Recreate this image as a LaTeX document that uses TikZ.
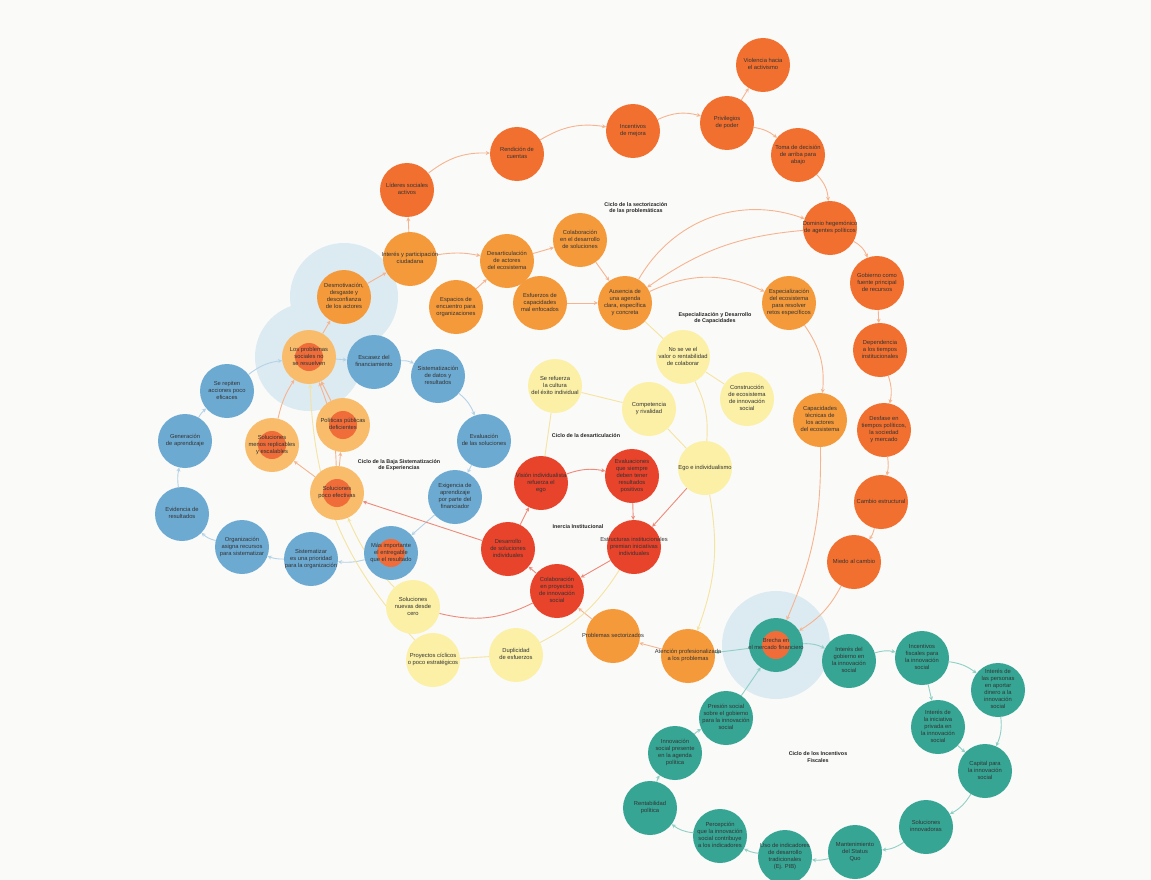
\documentclass[tikz,border=0pt]{standalone}
\usepackage{fontspec}
\setmainfont{Liberation Sans}
\usetikzlibrary{arrows.meta}
\pgfdeclarelayer{back}
\pgfdeclarelayer{bg}
\pgfsetlayers{back,bg,main}
\newcommand{\tx}[1]{\makebox[0pt]{\begin{tabular}{@{}c@{}}#1\end{tabular}}}
\definecolor{cBack}{HTML}{FAFAF9}
\definecolor{cDor}{HTML}{F2702F}
\definecolor{cMor}{HTML}{F59A3B}
\definecolor{cLor}{HTML}{F8BC6B}
\definecolor{cCore}{HTML}{F06D3A}
\definecolor{cBlu}{HTML}{6DAAD2}
\definecolor{cYel}{HTML}{FBF0A6}
\definecolor{cRed}{HTML}{E8432B}
\definecolor{cTea}{HTML}{36A594}
\definecolor{cHalo}{HTML}{DCEAF2}
\definecolor{eOr}{HTML}{F6B48E}
\definecolor{eBl}{HTML}{B4D3E6}
\definecolor{eYe}{HTML}{F5E3A0}
\definecolor{eRe}{HTML}{EE8A7A}
\definecolor{eTe}{HTML}{8FD0C5}
\begin{document}
\begin{tikzpicture}[x=1pt,y=-1pt,
 nd/.style={circle, minimum size=54pt, inner sep=0pt,
   font=\fontsize{5.8}{7}\selectfont, text=black!80},
 dor/.style={nd, fill=cDor},
 mor/.style={nd, fill=cMor},
 lor/.style={nd, fill=cLor},
 blu/.style={nd, fill=cBlu},
 yel/.style={nd, fill=cYel},
 red/.style={nd, fill=cRed},
 tea/.style={nd, fill=cTea},
 core/.style={path picture={\fill[cCore] (path picture bounding box.center) circle (14pt);}},
 ar/.style={-{Stealth[length=4pt,width=4pt]}, line width=0.9pt},
 eo/.style={ar, draw=eOr},
 eb/.style={ar, draw=eBl},
 ey/.style={ar, draw=eYe},
 er/.style={ar, draw=eRe},
 et/.style={ar, draw=eTe},
 lbl/.style={font=\bfseries\fontsize{5.4}{6.5}\selectfont, align=center, text=black!85}
]
\useasboundingbox (0,0) rectangle (1151,880);
\begin{pgfonlayer}{back}
\fill[cBack] (0,0) rectangle (1151,880);
\end{pgfonlayer}

% dark orange
\node[dor] (viol) at (763,65) {\tx{Violencia hacia\\el activismo}};
\node[dor] (priv) at (727,123) {\tx{Privilegios\\de poder}};
\node[dor] (ince) at (633,131) {\tx{Incentivos\\de mejora}};
\node[dor] (rend) at (517,154) {\tx{Rendición de\\cuentas}};
\node[dor] (lide) at (407,190) {\tx{Líderes sociales\\activos}};
\node[dor] (toma) at (798,155) {\tx{Toma de decisión\\de arriba para\\abajo}};
\node[dor] (domi) at (830,228) {\tx{Dominio hegemónico\\de agentes políticos}};
\node[dor] (gobi) at (877,283) {\tx{Gobierno como\\fuente principal\\de recursos}};
\node[dor] (depe) at (880,350) {\tx{Dependencia\\a los tiempos\\institucionales}};
\node[dor] (desf) at (884,430) {\tx{Desfase en\\tiempos políticos,\\la sociedad\\y mercado}};
\node[dor] (camb) at (881,502) {\tx{Cambio estructural}};
\node[dor] (mied) at (854,562) {\tx{Miedo al cambio}};

% medium orange
\node[mor] (inte) at (410,259) {\tx{Interés y participación\\ciudadana}};
\node[mor] (desm) at (344,297) {\tx{Desmotivación,\\desgaste y\\desconfianza\\de los actores}};
\node[mor] (desa) at (507,261) {\tx{Desarticulación\\de actores\\del ecosistema}};
\node[mor] (cola) at (580,240) {\tx{Colaboración\\en el desarrollo\\de soluciones}};
\node[mor] (espa) at (456,307) {\tx{Espacios de\\encuentro para\\organizaciones}};
\node[mor] (esfu) at (540,303) {\tx{Esfuerzos de\\capacidades\\mal enfocados}};
\node[mor] (ause) at (625,303) {\tx{Ausencia de\\una agenda\\clara, específica\\y concreta}};
\node[mor] (espe) at (789,303) {\tx{Especialización\\del ecosistema\\para resolver\\retos específicos}};
\node[mor] (capa) at (820,420) {\tx{Capacidades\\técnicas de\\los actores\\del ecosistema}};
\node[mor] (prob) at (613,636) {\tx{Problemas sectorizados}};
\node[mor] (aten) at (688,656) {\tx{Atención profesionalizada\\a los problemas}};

% light orange with core
\node[lor,core] (lpro) at (309,357) {\tx{Los problemas\\sociales no\\se resuelven}};
\node[lor,core] (poli) at (343,425) {\tx{Políticas públicas\\deficientes}};
\node[lor,core] (smen) at (272,445) {\tx{Soluciones\\menos replicables\\y escalables}};
\node[lor,core] (spoc) at (337,493) {\tx{Soluciones\\poco efectivas}};

% blue
\node[blu] (repi) at (227,391) {\tx{Se repiten\\acciones poco\\eficaces}};
\node[blu] (gene) at (185,441) {\tx{Generación\\de aprendizaje}};
\node[blu] (evid) at (182,514) {\tx{Evidencia de\\resultados}};
\node[blu] (orga) at (242,547) {\tx{Organización\\asigna recursos\\para sistematizar}};
\node[blu] (sist) at (311,559) {\tx{Sistematizar\\es una prioridad\\para la organización}};
\node[blu,core] (masi) at (391,553) {\tx{Más importante\\el entregable\\que el resultado}};
\node[blu] (exig) at (455,497) {\tx{Exigencia de\\aprendizaje\\por parte del\\financiador}};
\node[blu] (eval) at (484,441) {\tx{Evaluación\\de las soluciones}};
\node[blu] (sisd) at (438,376) {\tx{Sistematización\\de datos y\\resultados}};
\node[blu] (esca) at (374,362) {\tx{Escasez del\\financiamiento}};

% yellow
\node[yel] (sref) at (555,386) {\tx{Se refuerza\\la cultura\\del éxito individual}};
\node[yel] (nove) at (683,357) {\tx{No se ve el\\valor o rentabilidad\\de colaborar}};
\node[yel] (cons) at (747,399) {\tx{Construcción\\de ecosistema\\de innovación\\social}};
\node[yel] (comp) at (649,409) {\tx{Competencia\\y rivalidad}};
\node[yel] (egoi) at (705,468) {\tx{Ego e individualismo}};
\node[yel] (snue) at (413,607) {\tx{Soluciones\\nuevas desde\\cero}};
\node[yel] (pcic) at (433,660) {\tx{Proyectos cíclicos\\o poco estratégicos}};
\node[yel] (dupl) at (516,655) {\tx{Duplicidad\\de esfuerzos}};

% red
\node[red] (visi) at (541,483) {\tx{Visión individualista\\refuerza el\\ego}};
\node[red] (evpo) at (632,476) {\tx{Evaluaciones\\que siempre\\deben tener\\resultados\\positivos}};
\node[red] (dsol) at (508,549) {\tx{Desarrollo\\de soluciones\\individuales}};
\node[red] (estr) at (634,547) {\tx{Estructuras institucionales\\premian iniciativas\\individuales}};
\node[red] (cpro) at (557,591) {\tx{Colaboración\\en proyectos\\de innovación\\social}};

% teal
\node[tea,core] (brec) at (776,645) {\tx{Brecha en\\el mercado financiero}};
\node[tea] (igob) at (849,661) {\tx{Interés del\\gobierno en\\la innovación\\social}};
\node[tea] (ifis) at (922,658) {\tx{Incentivos\\fiscales para\\la innovación\\social}};
\node[tea] (ipers) at (998,690) {\tx{Interés de\\las personas\\en aportar\\dinero a la\\innovación\\social}};
\node[tea] (ipri) at (938,727) {\tx{Interés de\\la iniciativa\\privada en\\la innovación\\social}};
\node[tea] (capi) at (985,771) {\tx{Capital para\\la innovación\\social}};
\node[tea] (sinn) at (926,827) {\tx{Soluciones\\innovadoras}};
\node[tea] (mant) at (855,852) {\tx{Mantenimiento\\del Status\\Quo}};
\node[tea] (usoi) at (785,857) {\tx{Uso de indicadores\\de desarrollo\\tradicionales\\(Ej. PIB)}};
\node[tea] (perc) at (720,836) {\tx{Percepción\\que la innovación\\social contribuye\\a los indicadores}};
\node[tea] (rent) at (650,808) {\tx{Rentabilidad\\política}};
\node[tea] (ipre) at (675,753) {\tx{Innovación\\social presente\\en la agenda\\política}};
\node[tea] (pres) at (726,718) {\tx{Presión social\\sobre el gobierno\\para la innovación\\social}};

% cycle labels
\node[lbl] (l1) at (636,208) {Ciclo de la sectorización\\de las problemáticas};
\node[lbl] (l2) at (715,318) {Especialización y Desarrollo\\de Capacidades};
\node[lbl] (l3) at (399,465) {Ciclo de la Baja Sistematización\\de Experiencias};
\node[lbl] (l4) at (586,436) {Ciclo de la desarticulación};
\node[lbl] (l5) at (578,527) {Inercia Institucional};
\node[lbl] (l6) at (818,757) {Ciclo de los Incentivos\\Fiscales};

\begin{pgfonlayer}{back}
\fill[cHalo] (desm) circle (54);
\fill[cHalo] (lpro) circle (54);
\fill[cHalo] (brec) circle (54);
\end{pgfonlayer}

\begin{pgfonlayer}{bg}
% orange cycle
\draw[eo] (inte) -- (lide);
\draw[eo] (lide) to[bend left=20] (rend);
\draw[eo] (rend) to[bend left=20] (ince);
\draw[eo] (ince) to[bend left=20] (priv);
\draw[eo] (priv) -- (viol);
\draw[eo] (priv) to[bend left=15] (toma);
\draw[eo] (toma) to[bend left=20] (domi);
\draw[eo] (domi) to[bend left=20] (gobi);
\draw[eo] (gobi) -- (depe);
\draw[eo] (depe) to[bend left=15] (desf);
\draw[eo] (desf) to[bend left=10] (camb);
\draw[eo] (camb) to[bend left=10] (mied);
\draw[eo] (mied) to[bend left=15] (brec);
\draw[eo] (ause) to[bend left=40] (domi);
\draw[eo] (domi) to[bend right=15] (ause);
\draw[eo] (ause) to[bend left=25] (espe);
\draw[eo] (espe) to[bend left=20] (capa);
\draw[eo] (capa) to[bend left=12] (brec);
\draw[eo] (desm) -- (inte);
\draw[eo] (inte) to[bend left=10] (desa);
\draw[eo] (espa) -- (desa);
\draw[eo] (desa) -- (cola);
\draw[eo] (desa) -- (esfu);
\draw[eo] (cola) -- (ause);
\draw[eo] (esfu) -- (ause);
\draw[eo] (aten) -- (prob);
\draw[eo] (prob) -- (cpro);
\draw[et] (brec) -- (aten);

% light orange
\draw[eo] (lpro) -- (desm);
\draw[eo] (spoc) -- (smen);
\draw[eo] (spoc) -- (poli);
\draw[eo] (poli) -- (lpro);
\draw[eo] (smen) to[bend left=10] (lpro);
\draw[eo] (spoc) to[bend right=10] (lpro);

% blue cycle
\draw[eb] (lpro) -- (esca);
\draw[eb] (esca) to[bend left=15] (sisd);
\draw[eb] (sisd) to[bend left=15] (eval);
\draw[eb] (eval) -- (exig);
\draw[eb] (exig) -- (masi);
\draw[eb] (masi) to[bend left=10] (sist);
\draw[eb] (sist) to[bend left=10] (orga);
\draw[eb] (orga) to[bend left=15] (evid);
\draw[eb] (evid) to[bend left=10] (gene);
\draw[eb] (gene) to[bend left=10] (repi);
\draw[eb] (repi) to[bend left=15] (lpro);

% yellow
\draw[ey,-] (sref) -- (comp);
\draw[ey,-] (ause) -- (nove);
\draw[ey,-] (nove) -- (cons);
\draw[ey,-] (nove) to[bend left=15] (egoi);
\draw[ey,-] (comp) -- (egoi);
\draw[ey,-] (sref) -- (visi);
\draw[ey] (egoi) to[bend left=15] (aten);
\draw[ey,-] (pcic) -- (dupl);
\draw[ey,-] (dupl) to[bend right=15] (estr);
\draw[ey] (snue) to[bend left=10] (spoc);
\draw[ey] (pcic) to[bend left=20] (lpro);

% red
\draw[er] (egoi) -- (estr);
\draw[er] (dsol) -- (visi);
\draw[er] (visi) to[bend left=15] (evpo);
\draw[er] (evpo) -- (estr);
\draw[er] (estr) -- (cpro);
\draw[er] (cpro) -- (dsol);
\draw[er] (dsol) -- (spoc);
\draw[er,-] (cpro) to[bend left=20] (snue);

% teal cycle
\draw[et] (brec) to[bend left=15] (igob);
\draw[et] (igob) to[bend left=15] (ifis);
\draw[et] (ifis) to[bend left=15] (ipers);
\draw[et] (ifis) -- (ipri);
\draw[et] (ipers) to[bend left=15] (capi);
\draw[et] (ipri) -- (capi);
\draw[et] (capi) to[bend left=15] (sinn);
\draw[et] (sinn) to[bend left=15] (mant);
\draw[et] (mant) to[bend left=10] (usoi);
\draw[et] (usoi) to[bend left=10] (perc);
\draw[et] (perc) to[bend left=15] (rent);
\draw[et] (rent) to[bend left=10] (ipre);
\draw[et] (ipre) to[bend left=10] (pres);
\draw[et] (pres) -- (brec);
\end{pgfonlayer}
\end{tikzpicture}
\end{document}
